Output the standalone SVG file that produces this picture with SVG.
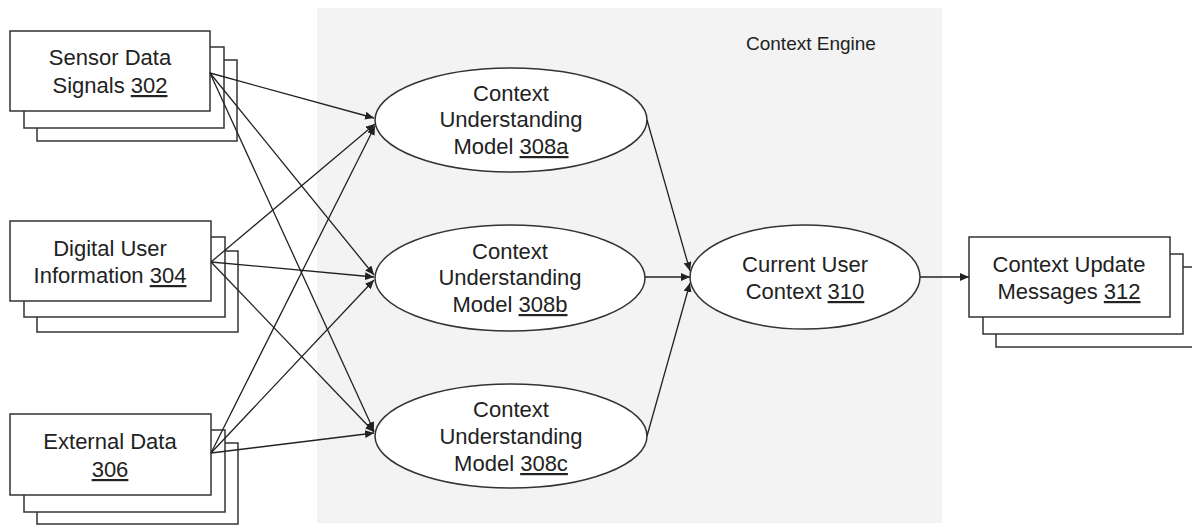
<svg xmlns="http://www.w3.org/2000/svg" width="1192" height="525" viewBox="0 0 1192 525">
<defs>
<marker id="ah" markerUnits="userSpaceOnUse" markerWidth="9" markerHeight="8" refX="9" refY="4" orient="auto">
<path d="M0,0 L9,4 L0,8 z" fill="#222"/>
</marker>
<style>
.box{fill:#fff;stroke:#333;stroke-width:1.5}
.ell{fill:#fff;stroke:#333;stroke-width:1.5}
.t{font-family:"Liberation Sans",Arial,sans-serif;font-size:22px;fill:#222;text-anchor:middle}
.lbl{font-family:"Liberation Sans",Arial,sans-serif;font-size:19px;fill:#222}
.u{text-decoration:underline}
.c{fill:none;stroke:#222;stroke-width:1.3;marker-end:url(#ah)}
</style>
</defs>
<rect width="1192" height="525" fill="#fff"/>
<g id="context-engine">
<rect x="317" y="8" width="625" height="515" fill="#f3f3f3"/>
<text class="lbl" x="746" y="50">Context Engine</text>
</g>
<g id="sensor-302">
<rect class="box" x="37" y="60" width="200" height="81"/>
<rect class="box" x="24" y="47" width="200" height="81"/>
<rect class="box" x="10" y="31" width="200" height="80"/>
<text class="t" x="110" y="65">Sensor Data</text>
<text class="t" x="110" y="93">Signals <tspan class="u">302</tspan></text>
</g>
<g id="digital-304">
<rect class="box" x="37" y="251" width="201" height="81"/>
<rect class="box" x="24" y="237" width="201" height="80"/>
<rect class="box" x="10" y="221" width="201" height="80"/>
<text class="t" x="110" y="256">Digital User</text>
<text class="t" x="110" y="283">Information <tspan class="u">304</tspan></text>
</g>
<g id="external-306">
<rect class="box" x="37" y="443" width="201" height="81"/>
<rect class="box" x="24" y="430" width="201" height="82"/>
<rect class="box" x="10" y="414" width="201" height="81"/>
<text class="t" x="110" y="449">External Data</text>
<text class="t" x="110" y="477"><tspan class="u">306</tspan></text>
</g>
<g id="model-308a">
<ellipse class="ell" cx="511" cy="120" rx="136" ry="52"/>
<text class="t" x="511" y="101">Context</text>
<text class="t" x="511" y="127">Understanding</text>
<text class="t" x="511" y="154">Model <tspan class="u">308a</tspan></text>
</g>
<g id="model-308b">
<ellipse class="ell" cx="510" cy="278" rx="135" ry="53"/>
<text class="t" x="510" y="259">Context</text>
<text class="t" x="510" y="285">Understanding</text>
<text class="t" x="510" y="312">Model <tspan class="u">308b</tspan></text>
</g>
<g id="model-308c">
<ellipse class="ell" cx="511" cy="436" rx="136" ry="52"/>
<text class="t" x="511" y="417">Context</text>
<text class="t" x="511" y="444">Understanding</text>
<text class="t" x="511" y="471">Model <tspan class="u">308c</tspan></text>
</g>
<g id="current-310">
<ellipse class="ell" cx="805" cy="277" rx="115" ry="52"/>
<text class="t" x="805" y="272">Current User</text>
<text class="t" x="805" y="299">Context <tspan class="u">310</tspan></text>
</g>
<g id="messages-312">
<rect class="box" x="996" y="267" width="220" height="80"/>
<rect class="box" x="983" y="254" width="200" height="80"/>
<rect class="box" x="969" y="237" width="201" height="80"/>
<text class="t" x="1069" y="272">Context Update</text>
<text class="t" x="1069" y="299">Messages <tspan class="u">312</tspan></text>
</g>
<g id="connectors">
<line class="c" x1="210" y1="73" x2="374" y2="118"/>
<line class="c" x1="210" y1="73" x2="374" y2="275"/>
<line class="c" x1="210" y1="73" x2="374" y2="431"/>
<line class="c" x1="211" y1="262" x2="375" y2="124"/>
<line class="c" x1="211" y1="262" x2="374" y2="277"/>
<line class="c" x1="211" y1="262" x2="374" y2="432"/>
<line class="c" x1="211" y1="453" x2="375" y2="126"/>
<line class="c" x1="211" y1="453" x2="374" y2="280"/>
<line class="c" x1="211" y1="453" x2="374" y2="433"/>
<line class="c" x1="647" y1="120" x2="690" y2="271"/>
<line class="c" x1="645" y1="277" x2="690" y2="277"/>
<line class="c" x1="647" y1="436" x2="690" y2="283"/>
<line class="c" x1="920" y1="277" x2="969" y2="277"/>
</g>
</svg>
